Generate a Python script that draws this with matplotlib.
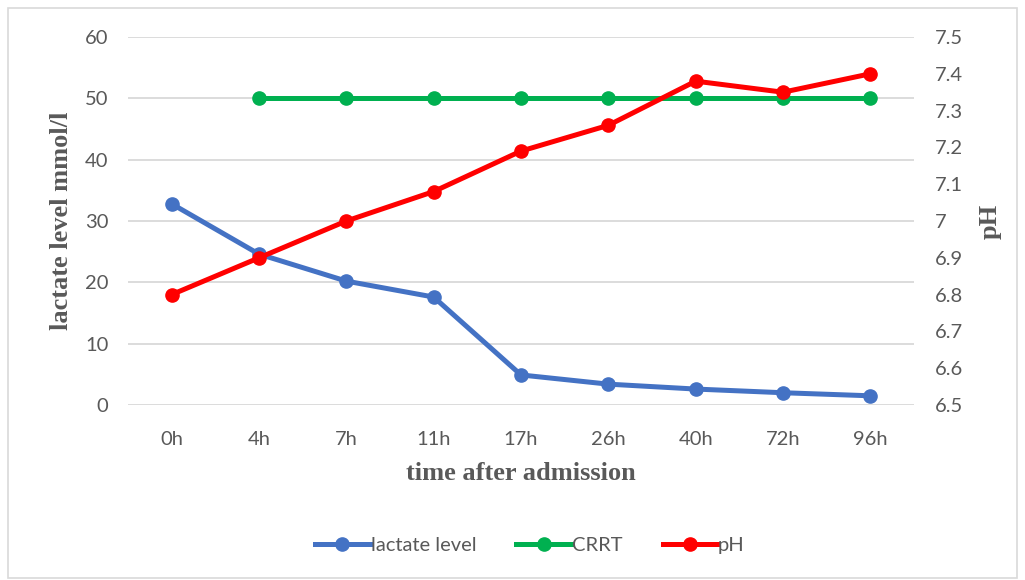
import matplotlib
matplotlib.use("Agg")
import matplotlib.pyplot as plt
from matplotlib.patches import Rectangle

categories = ["0h", "4h", "7h", "11h", "17h", "26h", "40h", "72h", "96h"]
lactate = [32.8, 24.6, 20.2, 17.6, 4.9, 3.4, 2.6, 2.0, 1.5]
crrt = [None, 50, 50, 50, 50, 50, 50, 50, 50]
ph = [6.80, 6.90, 7.00, 7.08, 7.19, 7.26, 7.38, 7.35, 7.40]
left_ticks = [0, 10, 20, 30, 40, 50, 60]
right_ticks = [6.5, 6.6, 6.7, 6.8, 6.9, 7.0, 7.1, 7.2, 7.3, 7.4, 7.5]
right_labels = ["6.5", "6.6", "6.7", "6.8", "6.9", "7", "7.1", "7.2", "7.3", "7.4", "7.5"]

BLUE = "#4472C4"
GREEN = "#00B050"
RED = "#FF0000"
GRAY = "#595959"

fig = plt.figure(figsize=(10.25, 5.8), dpi=100)
fig.patches.append(Rectangle((8 / 1025, 2 / 580), 1009 / 1025, 570 / 580, transform=fig.transFigure,
                             fill=False, edgecolor="#d9d9d9", linewidth=1.2))

ax = fig.add_axes([128 / 1025, 1 - 405 / 580, 786 / 1025, 368 / 580])
ax2 = ax.twinx()

x = list(range(len(categories)))
crrt_x = [i for i, v in zip(x, crrt) if v is not None]
crrt_y = [v for v in crrt if v is not None]

lw = 3.6
ms = 9.5
l1, = ax.plot(x, lactate, color=BLUE, lw=lw, marker="o", ms=ms, label="lactate level", zorder=3)
l2, = ax.plot(crrt_x, crrt_y, color=GREEN, lw=lw, marker="o", ms=ms, label="CRRT", zorder=3)
l3, = ax2.plot(x, ph, color=RED, lw=lw, marker="o", ms=ms, label="pH", zorder=3)

ax.set_xlim(-0.5, len(categories) - 0.5)
ax.set_ylim(0, 60)
ax2.set_ylim(6.5, 7.5)
ax.set_yticks(left_ticks)
ax2.set_yticks(right_ticks)
ax2.set_yticklabels(right_labels)
ax.set_xticks(x)
ax.set_xticklabels(categories)

TICK_FAMILY = ["Lato", "DejaVu Sans"]
for lab in ax.get_xticklabels() + ax.get_yticklabels() + ax2.get_yticklabels():
    lab.set_fontfamily(TICK_FAMILY)
    lab.set_fontsize(14.5)
    lab.set_color(GRAY)

ax.tick_params(axis="both", length=0)
ax.tick_params(axis="y", pad=14)
ax.tick_params(axis="x", pad=19)
ax2.tick_params(axis="y", length=0, pad=15)

ax.grid(axis="y", color="#d9d9d9", lw=1.3)
ax.set_axisbelow(True)
for a in (ax, ax2):
    for s in a.spines.values():
        s.set_visible(False)

label_font = dict(family="Liberation Serif", weight="bold", size=19, color=GRAY)
ax.set_xlabel("time after admission", labelpad=10, **label_font)
ax.set_ylabel("lactate level mmol/l", labelpad=9, **label_font)
ax2.set_ylabel("pH", labelpad=11, rotation=90, **label_font)

leg = fig.legend(handles=[l1, l2, l3], loc="center", bbox_to_anchor=(0.517, 1 - 545 / 580),
                 ncol=3, frameon=False, handlelength=2.7, columnspacing=2.0, handletextpad=0.05,
                 prop={"family": TICK_FAMILY, "size": 14.5})
for t in leg.get_texts():
    t.set_color(GRAY)

fig.savefig("out.png", dpi=100)
